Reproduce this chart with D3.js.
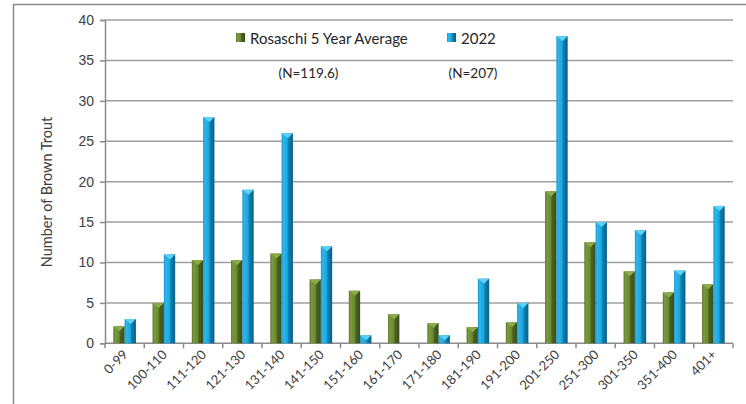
<!DOCTYPE html>
<html><head><meta charset="utf-8">
<script src="https://cdn.jsdelivr.net/npm/d3@7"></script>
<style>
html,body{margin:0;padding:0;background:#fff;}
svg{display:block;font-family:Lato, "Open Sans", sans-serif;}
</style></head>
<body>
<svg id="chart" width="746" height="404"></svg>
<script>
const categories = ["0-99","100-110","111-120","121-130","131-140","141-150","151-160","161-170","171-180","181-190","191-200","201-250","251-300","301-350","351-400","401+"];
const avgValues = [2.1,5.0,10.3,10.3,11.1,7.9,6.5,3.6,2.5,2.0,2.6,18.8,12.5,8.9,6.3,7.3];
const values2022 = [3,11,28,19,26,12,1,0,1,8,5,38,15,14,9,17];
const seriesNames = ["Rosaschi 5 Year Average","2022"];
const nLabels = ["(N=119.6)","(N=207)"];
const yTicks = [0,5,10,15,20,25,30,35,40];

const svg = d3.select("#chart");
const m = {left:105, right:733, top:20, bottom:343.3};

// outer frame
svg.append("rect").attr("x",13.5).attr("y",4.5).attr("width",760).attr("height",420)
  .attr("fill","none").attr("stroke","#8c8c8c").attr("stroke-width",1.5);

const x = d3.scaleBand().domain(categories).range([m.left,m.right]);
const y = d3.scaleLinear().domain([0,40]).range([m.bottom,m.top]);

// gradients
const defs = svg.append("defs");
function grad(id, stops){
  const g = defs.append("linearGradient").attr("id",id).attr("x1","0").attr("x2","1").attr("y1","0").attr("y2","0");
  stops.forEach(s=>g.append("stop").attr("offset",s[0]).attr("stop-color",s[1]));
}
grad("gGreen",[[0,"#55702a"],[0.15,"#7a9a3c"],[0.5,"#6b8a33"],[0.62,"#4b6222"],[1,"#3a4d1a"]]);
grad("gBlue",[[0,"#1590c4"],[0.15,"#2ab8ee"],[0.5,"#1ca6dc"],[0.62,"#0d7fb0"],[1,"#0a5f86"]]);

// gridlines
svg.append("g").selectAll("line").data(yTicks.filter(d=>d>0)).join("line")
  .attr("x1",m.left).attr("x2",m.right)
  .attr("y1",d=>y(d)).attr("y2",d=>y(d))
  .attr("stroke","#9f9f9f").attr("stroke-width",1.5);

// y axis
const yAxis = d3.axisLeft(y).tickValues(yTicks).tickSize(5).tickPadding(6);
const gy = svg.append("g").attr("transform",`translate(${m.left},0)`).call(yAxis);
gy.select(".domain").attr("stroke","#8c8c8c").attr("stroke-width",1.5);
gy.selectAll(".tick line").attr("stroke","#8c8c8c").attr("stroke-width",1.5);
gy.selectAll(".tick text").attr("fill","#404040").attr("font-size",14);

// x axis with ticks at band boundaries
const gx = svg.append("g").attr("transform",`translate(0,${m.bottom})`);
gx.append("line").attr("x1",m.left).attr("x2",m.right).attr("stroke","#8c8c8c").attr("stroke-width",1.5);
const bounds = categories.map(c=>x(c)).concat([m.right]);
gx.selectAll("line.tk").data(bounds).join("line").attr("class","tk")
  .attr("x1",d=>d).attr("x2",d=>d).attr("y1",0).attr("y2",5)
  .attr("stroke","#8c8c8c").attr("stroke-width",1.5);
gx.selectAll("text").data(categories).join("text")
  .attr("transform",d=>`translate(${x(d)+x.bandwidth()/2+4},${12}) rotate(-45)`)
  .attr("text-anchor","end").attr("font-size",13).attr("fill","#404040")
  .text(d=>d);

// bars
const bw = 11.3;
function drawBars(vals, gid, offset, capColor){
  const g = svg.append("g");
  vals.forEach((v,i)=>{
    if(v<=0) return;
    const cx = x(categories[i]) + x.bandwidth()/2 + offset;
    const x0 = cx, y0 = y(v), h = y(0)-y(v);
    g.append("rect").attr("x",x0).attr("y",y0).attr("width",bw).attr("height",h)
      .attr("fill",`url(#${gid})`);
    const ch = Math.min(5,h);
    g.append("path").attr("d",`M${x0},${y0}L${x0+bw},${y0}L${x0+bw*0.55},${y0+ch}Z`)
      .attr("fill",capColor);
  });
}
drawBars(avgValues,"gGreen",-bw,"#8aab4a");
drawBars(values2022,"gBlue",0,"#5fd0f7");

// y label
svg.append("text").attr("transform","translate(52,192) rotate(-90)")
  .attr("text-anchor","middle").attr("font-size",14.5).attr("fill","#404040")
  .text("Number of Brown Trout");

// legend
const leg = [{x:236, fill:"url(#gGreen)", name:seriesNames[0]},{x:447, fill:"url(#gBlue)", name:seriesNames[1]}];
leg.forEach(l=>{
  svg.append("rect").attr("x",l.x).attr("y",33).attr("width",9).attr("height",9).attr("fill",l.fill);
  svg.append("text").attr("x",l.x+14).attr("y",43.5).attr("font-size",15).attr("fill","#262626").text(l.name);
});
svg.append("text").attr("x",308.5).attr("y",78).attr("text-anchor","middle").attr("font-size",13.5).attr("fill","#262626").text(nLabels[0]);
svg.append("text").attr("x",473).attr("y",78).attr("text-anchor","middle").attr("font-size",13.5).attr("fill","#262626").text(nLabels[1]);
</script>
</body></html>
